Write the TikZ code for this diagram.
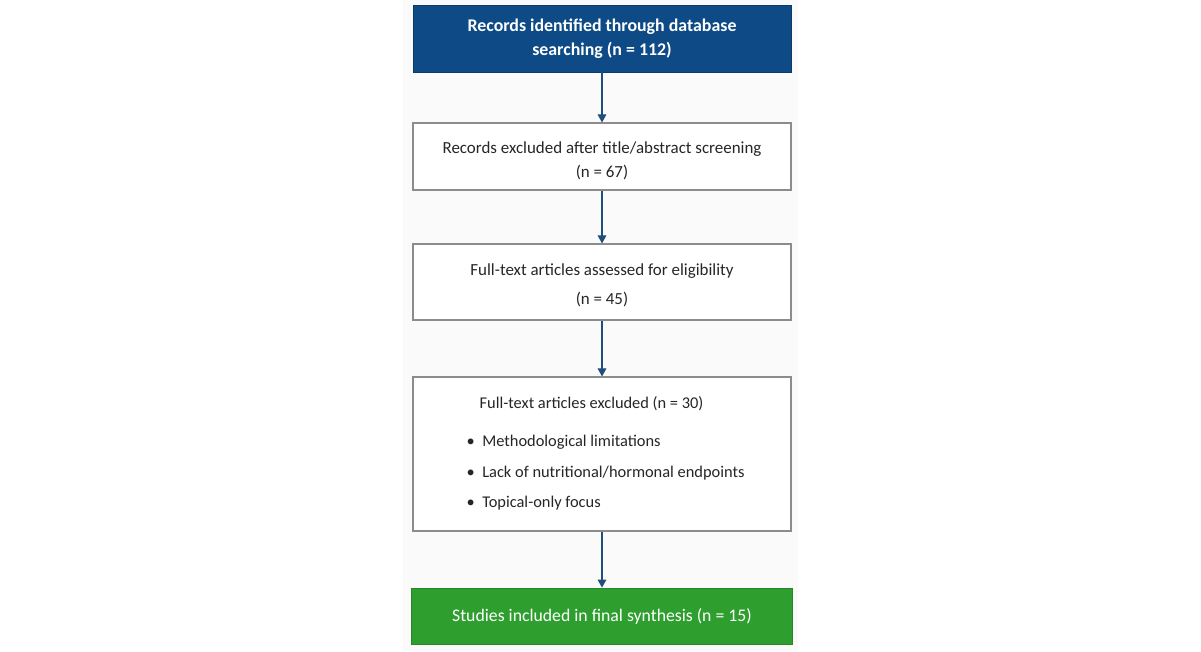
\documentclass[tikz,border=0pt]{standalone}
\usepackage{fontspec}
\setmainfont{Carlito}
\usetikzlibrary{arrows.meta}
\definecolor{topblue}{HTML}{0D4A86}
\definecolor{boxgreen}{HTML}{2E9F2E}
\definecolor{arrowblue}{HTML}{1F4E7D}
\definecolor{framegray}{HTML}{8C8C8C}
\definecolor{panel}{HTML}{FAFAFA}
\tikzset{
  px/.style={x=0.75pt,y=-0.75pt},
  whitebox/.style={draw=framegray,line width=0.9pt,fill=white,inner sep=0pt},
  conn/.style={draw=arrowblue,line width=0.8pt,-{Triangle[length=6pt,width=6.5pt]}},
  txt/.style={font=\fontsize{12.7pt}{18pt}\selectfont,align=center,text=black!85},
  listtxt/.style={txt,anchor=west,font=\fontsize{12.3pt}{18pt}\selectfont},
}
\begin{document}
\begin{tikzpicture}[px]
\useasboundingbox (0,0) rectangle (1201,651);
\fill[white] (0,0) rectangle (1201,651);
\fill[panel] (403,0) rectangle (798,651);
% boxes
\node[fill=topblue,draw=topblue!80!black,line width=0.6pt,minimum width=378*0.75pt,minimum height=67*0.75pt,inner sep=0pt] (b1) at (602,38.5) {};
\node[txt,text=white,font=\fontsize{13.4pt}{18pt}\selectfont\bfseries] (t1) at (602,39) {Records identified through database\\searching (n = 112)};
\node[whitebox,minimum width=378*0.75pt,minimum height=67*0.75pt] (b2) at (602,156.5) {};
\node[txt] (t2) at (602,161) {Records excluded after title/abstract screening\\(n = 67)};
\node[whitebox,minimum width=378*0.75pt,minimum height=76*0.75pt] (b3) at (602,282) {};
\node[txt,font=\fontsize{12.7pt}{21.75pt}\selectfont] (t3) at (602,285.5) {Full-text articles assessed for eligibility\\(n = 45)};
\node[whitebox,minimum width=378*0.75pt,minimum height=154*0.75pt] (b4) at (602,454) {};
\node[listtxt] (t4) at (475,404) {Full-text articles excluded (n = 30)};
\node[listtxt] (l1) at (462,442) {\textbullet\ \ Methodological limitations};
\node[listtxt] (l2) at (462,473) {\textbullet\ \ Lack of nutritional/hormonal endpoints};
\node[listtxt] (l3) at (462,503) {\textbullet\ \ Topical-only focus};
\node[fill=boxgreen,draw=boxgreen!85!black,line width=0.6pt,minimum width=381*0.75pt,minimum height=56*0.75pt,inner sep=0pt] (b5) at (602,616) {};
\node[txt,text=white,font=\fontsize{13.3pt}{18pt}\selectfont] (t5) at (602,616) {Studies included in final synthesis (n = 15)};
% connectors
\draw[conn] (b1.south) -- (b2.north);
\draw[conn] (b2.south) -- (b3.north);
\draw[conn] (b3.south) -- (b4.north);
\draw[conn] (b4.south) -- (b5.north);
\end{tikzpicture}
\end{document}
